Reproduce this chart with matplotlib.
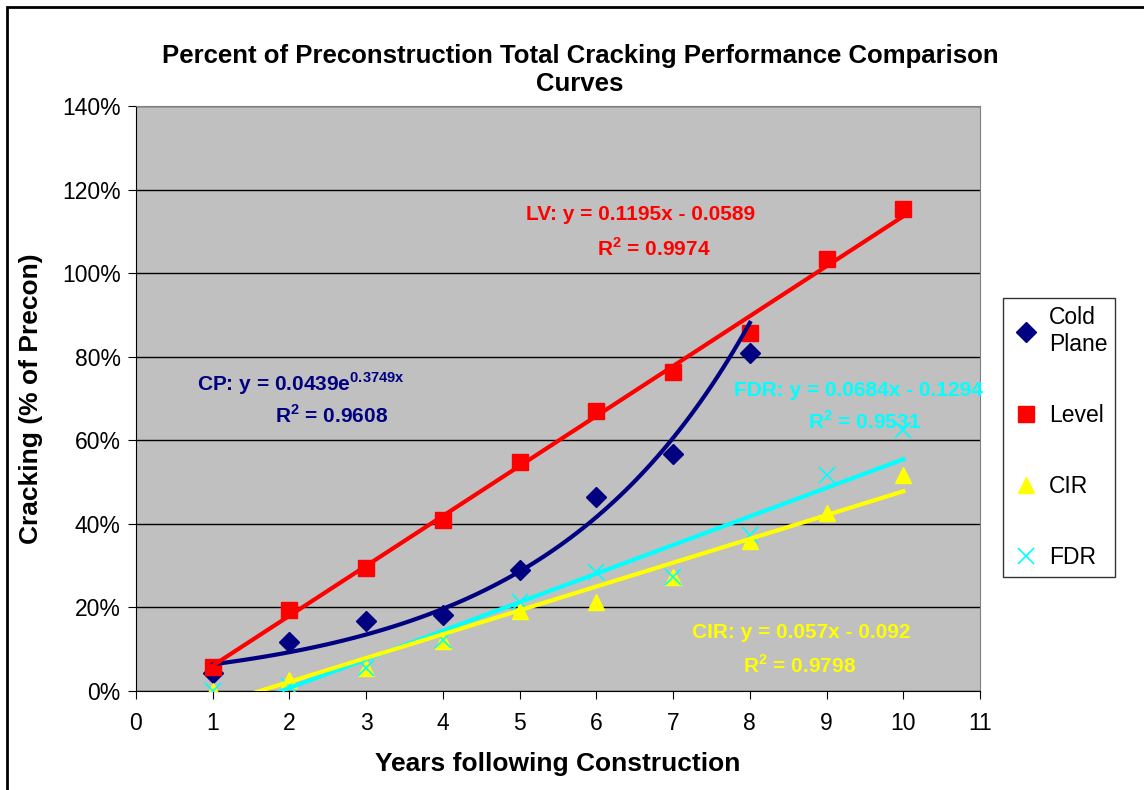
import numpy as np
import matplotlib.pyplot as plt
from matplotlib.patches import Rectangle
from matplotlib.ticker import PercentFormatter

plt.rcParams['font.family'] = ['Liberation Sans', 'DejaVu Sans']
plt.rcParams['mathtext.fontset'] = 'custom'
plt.rcParams['mathtext.rm'] = 'Liberation Sans'
plt.rcParams['mathtext.bf'] = 'Liberation Sans:bold'

# data
years = [1, 2, 3, 4, 5, 6, 7, 8, 9, 10]
cold_plane = [0.043, 0.117, 0.167, 0.182, 0.289, 0.464, 0.568, 0.809]
level = [0.057, 0.194, 0.294, 0.409, 0.548, 0.670, 0.763, 0.856, 1.033, 1.153]
cir = [0.0, 0.026, 0.055, 0.119, 0.192, 0.212, 0.273, 0.360, 0.426, 0.517]
fdr = [0.0, 0.012, 0.055, 0.122, 0.213, 0.285, 0.273, 0.373, 0.517, 0.625]

# trendline coefficients (from the labels)
lv_fit = [0.1195, -0.0589]
cp_fit = [0.0439, 0.3749]
fdr_fit = [0.0684, -0.1294]
cir_fit = [0.057, -0.092]

fig = plt.figure(figsize=(11.44, 7.9), dpi=100)
fig.patches.append(Rectangle((7/1144, -0.1), 1.2, 1 - 7/790 + 0.1, transform=fig.transFigure,
                             fill=False, edgecolor='black', linewidth=2))
ax = fig.add_axes([136/1144, 1 - 691/790, (980 - 136)/1144, (691 - 106)/790])
ax.set_facecolor('#C0C0C0')
for s in ax.spines.values():
    s.set_color('#808080')
ax.spines['left'].set_color('black')
ax.spines['bottom'].set_color('black')

ax.set_xlim(0, 11)
ax.set_ylim(0, 1.4)
ax.set_xticks(range(0, 12))
ax.set_yticks(np.arange(0, 1.41, 0.2))
ax.yaxis.set_major_formatter(PercentFormatter(1.0, decimals=0))
ax.tick_params(axis='both', labelsize=16.5, direction='out', length=6, color='black')
ax.tick_params(axis='x', pad=9)
ax.tick_params(axis='y', pad=5)
ax.grid(axis='y', color='black', linewidth=1)
ax.set_axisbelow(True)

c_cp, c_lv, c_cir, c_fdr = '#000080', '#FF0000', '#FFFF00', '#00FFFF'

ax.plot(years[:8], cold_plane, 'D', color=c_cp, markersize=10, linestyle='none', label='Cold\nPlane', zorder=3)
ax.plot(years, level, 's', color=c_lv, markersize=12, linestyle='none', label='Level', zorder=3)
ax.plot(years, cir, '^', color=c_cir, markersize=12, linestyle='none', label='CIR', zorder=3)
ax.plot(years, fdr, 'x', color=c_fdr, markersize=12, markeredgewidth=1.2, linestyle='none', label='FDR', zorder=3)

xl = np.linspace(1, 10, 50)
xc = np.linspace(1, 8, 100)
ax.plot(xc, cp_fit[0] * np.exp(cp_fit[1] * xc), color=c_cp, linewidth=3, zorder=4)
ax.plot(xl, np.polyval(lv_fit, xl), color=c_lv, linewidth=3, zorder=4)
ax.plot(xl, np.polyval(fdr_fit, xl), color=c_fdr, linewidth=3, zorder=4)
ax.plot(xl, np.polyval(cir_fit, xl), color=c_cir, linewidth=3, zorder=4)

kw = dict(fontsize=15, fontweight='bold', ha='center', va='center', zorder=5)
ax.text(6.58, 1.14, 'LV: y = 0.1195x - 0.0589', color=c_lv, **kw)
ax.text(6.75, 1.058, r'R$^{\mathbf{2}}$ = 0.9974', color=c_lv, **kw)
ax.text(2.15, 0.735, r'CP: y = 0.0439e$^{\mathbf{0.3749x}}$', color=c_cp, **kw)
ax.text(2.55, 0.66, r'R$^{\mathbf{2}}$ = 0.9608', color=c_cp, **kw)
ax.text(9.42, 0.72, 'FDR: y = 0.0684x - 0.1294', color=c_fdr, **kw)
ax.text(9.5, 0.645, r'R$^{\mathbf{2}}$ = 0.9531', color=c_fdr, **kw)
ax.text(8.67, 0.14, 'CIR: y = 0.057x - 0.092', color=c_cir, **kw)
ax.text(8.65, 0.06, r'R$^{\mathbf{2}}$ = 0.9798', color=c_cir, **kw)

ax.set_xlabel('Years following Construction', fontsize=19, fontweight='bold', labelpad=12)
ax.set_ylabel('Cracking (% of Precon)', fontsize=19, fontweight='bold', labelpad=14)
fig.text(580/1144, 1 - 70/790, 'Percent of Preconstruction Total Cracking Performance Comparison\nCurves',
         fontsize=18.5, fontweight='bold', ha='center', va='center', linespacing=1.25)

leg = fig.legend(loc='upper left', bbox_to_anchor=(1003/1144, 1 - 298/790), fontsize=16.5,
                 frameon=True, fancybox=False, edgecolor='black', labelspacing=2.1,
                 handletextpad=0.35, borderpad=0.35, handlelength=1.3, borderaxespad=0)
leg.get_frame().set_linewidth(1)

fig.savefig('out.png', dpi=100)
